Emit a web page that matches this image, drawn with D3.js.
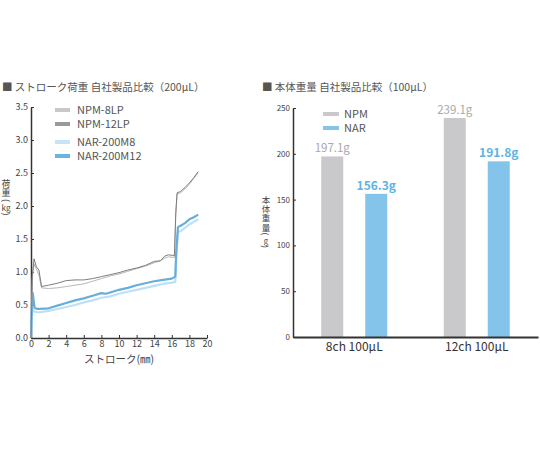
<!DOCTYPE html>
<html>
<head>
<meta charset="utf-8">
<script src="https://cdn.jsdelivr.net/npm/d3@7"></script>
<style>
  body { margin: 0; background: #fff; }
  svg { font-family: "Noto Sans CJK JP", "Noto Sans", sans-serif; }
</style>
</head>
<body>
<div id="chart"></div>
<script>
// Stroke load data (left chart)
var strokeX = [0, 0.15, 0.35, 0.6, 0.9, 1.2, 2, 3, 4, 5, 6, 7, 8, 9, 10, 11, 12, 13, 14, 14.7, 15.2, 15.6, 16.3, 16.45, 16.6, 17, 17.5, 18, 18.5, 19];
var npm12Load = [0, 0.95, 1.2, 1.08, 1.03, 0.78, 0.8, 0.83, 0.87, 0.88, 0.88, 0.9, 0.93, 0.96, 0.99, 1.03, 1.06, 1.1, 1.16, 1.17, 1.24, 1.26, 1.25, 1.9, 2.2, 2.22, 2.28, 2.35, 2.43, 2.52];
var npm8Load  = [0, 0.9, 1.12, 1.05, 0.95, 0.76, 0.75, 0.76, 0.78, 0.8, 0.82, 0.86, 0.9, 0.94, 0.97, 1.01, 1.05, 1.09, 1.14, 1.17, 1.21, 1.23, 1.22, 1.85, 2.18, 2.2, 2.26, 2.33, 2.42, 2.5];

var narX = [0, 0.1, 0.2, 0.4, 0.7, 1, 2, 3, 4, 5, 6, 7, 8, 8.5, 9, 10, 11, 12, 13, 14, 15, 16, 16.4, 16.5, 16.7, 17, 17.5, 18, 18.5, 19];
var nar12Load = [0, 0.5, 0.68, 0.46, 0.44, 0.44, 0.45, 0.49, 0.53, 0.57, 0.6, 0.64, 0.68, 0.67, 0.69, 0.73, 0.76, 0.8, 0.83, 0.86, 0.88, 0.9, 0.93, 1.3, 1.68, 1.7, 1.74, 1.8, 1.83, 1.87];
var nar8Load  = [0, 0.3, 0.45, 0.4, 0.39, 0.39, 0.41, 0.44, 0.47, 0.5, 0.54, 0.57, 0.61, 0.62, 0.63, 0.67, 0.7, 0.73, 0.76, 0.79, 0.82, 0.84, 0.85, 1.2, 1.6, 1.62, 1.67, 1.72, 1.76, 1.8];

var strokeTicks = [0, 2, 4, 6, 8, 10, 12, 14, 16, 18, 20];
var loadTicks = [0, 0.5, 1.0, 1.5, 2.0, 2.5, 3.0, 3.5];

// Body weight data (right chart)
var weightCategories = ["8ch 100μL", "12ch 100μL"];
var weightSeries = ["NPM", "NAR"];
var npmWeight = [197.1, 239.1];
var narWeight = [156.3, 191.8];
var weightTicks = [0, 50, 100, 150, 200, 250];

var svg = d3.select("#chart")
  .append("svg")
  .attr("width", 540)
  .attr("height", 450);

svg.append("rect").attr("width", 540).attr("height", 450).attr("fill", "#fff");

// draws a vertical axis title: upright chars, then a rotated "( unit )"
function verticalLabel(g, x, y0, size, chars, unit) {
  var step = size * 1.08;
  var y = y0;
  chars.forEach(function(c) {
    g.append("text").attr("x", x).attr("y", y)
      .attr("text-anchor", "middle").attr("dominant-baseline", "central")
      .attr("font-size", size).attr("fill", "#444").text(c);
    y += step;
  });
  y -= step * 0.2;
  g.append("text").attr("transform", `translate(${x},${y}) rotate(90)`)
    .attr("text-anchor", "middle").attr("dominant-baseline", "central")
    .attr("font-size", size).attr("fill", "#444").text("(");
  y += size * 0.75;
  g.append("text").attr("x", x).attr("y", y)
    .attr("text-anchor", "middle").attr("dominant-baseline", "central")
    .attr("font-size", size * 0.9).attr("fill", "#444").text(unit);
  y += size * 0.75;
  g.append("text").attr("transform", `translate(${x},${y}) rotate(90)`)
    .attr("text-anchor", "middle").attr("dominant-baseline", "central")
    .attr("font-size", size).attr("fill", "#444").text(")");
}

// ---------- Left chart ----------
var left = svg.append("g");

left.append("text")
  .attr("x", 2)
  .attr("y", 91)
  .attr("font-size", 10.5)
  .attr("fill", "#555")
  .text("■ ストローク荷重 自社製品比較（200μL）");

var xStroke = d3.scaleLinear().domain([0, 20]).range([31, 207]);
var yLoad = d3.scaleLinear().domain([0, 3.5]).range([338, 107]);

var xAxisL = left.append("g")
  .attr("transform", "translate(0,338)")
  .call(d3.axisBottom(xStroke).tickValues(strokeTicks).tickFormat(d3.format("d"))
    .tickSizeInner(-3).tickSizeOuter(0).tickPadding(3));

var yAxisL = left.append("g")
  .attr("transform", "translate(31,0)")
  .call(d3.axisLeft(yLoad).tickValues(loadTicks).tickFormat(d3.format(".1f"))
    .tickSizeInner(-3).tickSizeOuter(0).tickPadding(3));

[xAxisL, yAxisL].forEach(function(ax) {
  ax.select(".domain").attr("stroke", "#333").attr("stroke-width", 1.5);
  ax.selectAll(".tick line").attr("stroke", "#333");
  ax.selectAll(".tick text").attr("fill", "#444").attr("font-size", 9)
    .attr("font-family", "\"Noto Sans CJK JP\", sans-serif");
});

var lineFn = d3.line()
  .x(d => xStroke(d[0]))
  .y(d => yLoad(d[1]));

var loadSeries = [
  { name: "NAR-200M8", xs: narX, ys: nar8Load, color: "#bfe0f4", width: 2.2 },
  { name: "NAR-200M12", xs: narX, ys: nar12Load, color: "#66aedb", width: 2.2 },
  { name: "NPM-8LP", xs: strokeX, ys: npm8Load, color: "#b8b8b8", width: 1 },
  { name: "NPM-12LP", xs: strokeX, ys: npm12Load, color: "#7d7d7d", width: 1 }
];

left.selectAll(".load-line")
  .data(loadSeries)
  .enter()
  .append("path")
  .attr("class", "load-line")
  .attr("fill", "none")
  .attr("stroke", d => d.color)
  .attr("stroke-width", d => d.width)
  .attr("stroke-linejoin", "round")
  .attr("d", d => lineFn(d.xs.map((x, i) => [x, d.ys[i]])));

// legend (left)
var legendL = [
  { name: "NPM-8LP", color: "#c8c8c8", y: 110 },
  { name: "NPM-12LP", color: "#9a9a9a", y: 124 },
  { name: "NAR-200M8", color: "#c6e4f6", y: 142 },
  { name: "NAR-200M12", color: "#6cb4e0", y: 156 }
];
var lgL = left.selectAll(".lgL").data(legendL).enter().append("g");
lgL.append("rect")
  .attr("x", 55).attr("y", d => d.y - 2)
  .attr("width", 15).attr("height", 4)
  .attr("fill", d => d.color);
lgL.append("text")
  .attr("x", 77).attr("y", d => d.y + 4)
  .attr("font-size", 11).attr("fill", "#555")
  .text(d => d.name);

verticalLabel(left, 6, 183, 9, ["荷", "重"], "kg");

left.append("text")
  .attr("x", 119).attr("y", 363)
  .attr("text-anchor", "middle")
  .attr("font-size", 10.5).attr("fill", "#444")
  .text("ストローク(㎜)");

// ---------- Right chart ----------
var right = svg.append("g");

right.append("text")
  .attr("x", 262)
  .attr("y", 91)
  .attr("font-size", 10.5)
  .attr("fill", "#555")
  .text("■ 本体重量 自社製品比較（100μL）");

var x0 = d3.scaleBand().domain(weightCategories).range([293, 538]);
var x1 = d3.scaleBand().domain(weightSeries).range([0, 66]).paddingInner(0.5);
var yW = d3.scaleLinear().domain([0, 250]).range([337, 108]);

var colors = { NPM: "#c9c9cc", NAR: "#84c4ea" };
var labelColors = { NPM: "#a8a8aa", NAR: "#5eb3e4" };

var barData = [];
weightCategories.forEach(function(c, i) {
  barData.push({ cat: c, key: "NPM", value: npmWeight[i] });
  barData.push({ cat: c, key: "NAR", value: narWeight[i] });
});
var barX = d => x0(d.cat) + x0.bandwidth() / 2 - 33 + x1(d.key);

right.selectAll(".bar")
  .data(barData)
  .enter()
  .append("rect")
  .attr("class", "bar")
  .attr("x", barX)
  .attr("y", d => yW(d.value))
  .attr("width", x1.bandwidth())
  .attr("height", d => yW(0) - yW(d.value))
  .attr("fill", d => colors[d.key]);

right.selectAll(".barlabel")
  .data(barData)
  .enter()
  .append("text")
  .attr("x", d => barX(d) + x1.bandwidth() / 2)
  .attr("y", d => yW(d.value) - 4)
  .attr("text-anchor", "middle")
  .attr("font-size", d => d.key === "NAR" ? 12 : 11.5)
  .attr("font-weight", d => d.key === "NAR" ? "bold" : "normal")
  .attr("fill", d => labelColors[d.key])
  .text(d => d.value.toFixed(1) + "g");

var yAxisR = right.append("g")
  .attr("transform", "translate(293,0)")
  .call(d3.axisLeft(yW).tickValues(weightTicks)
    .tickSizeInner(-3).tickSizeOuter(0).tickPadding(3));
yAxisR.select(".domain").attr("stroke", "#333").attr("stroke-width", 1.5);
yAxisR.selectAll(".tick line").attr("stroke", "#333");
yAxisR.selectAll(".tick text").attr("fill", "#444").attr("font-size", 8)
  .attr("font-family", "\"Noto Sans CJK JP\", sans-serif");

var xAxisR = right.append("g")
  .attr("transform", "translate(0,337)")
  .call(d3.axisBottom(x0).tickSize(0).tickPadding(5));
xAxisR.select(".domain").attr("stroke", "#333").attr("stroke-width", 2);
xAxisR.selectAll(".tick text").attr("fill", "#333").attr("font-size", 12)
  .attr("font-family", "\"Noto Sans CJK JP\", sans-serif");

// legend (right)
var legendR = [
  { name: "NPM", color: "#c9c9cc", y: 114 },
  { name: "NAR", color: "#84c4ea", y: 128 }
];
var lgR = right.selectAll(".lgR").data(legendR).enter().append("g");
lgR.append("rect")
  .attr("x", 323).attr("y", d => d.y - 2)
  .attr("width", 16).attr("height", 4)
  .attr("fill", d => d.color);
lgR.append("text")
  .attr("x", 344).attr("y", d => d.y + 4)
  .attr("font-size", 11).attr("fill", "#555")
  .text(d => d.name);

verticalLabel(right, 266, 199, 8.5, ["本", "体", "重", "量"], "g");
</script>
</body>
</html>
